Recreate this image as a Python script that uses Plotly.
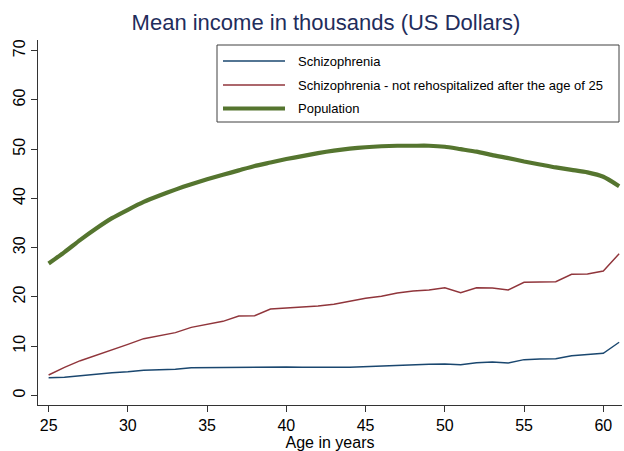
import plotly.graph_objects as go

# Mean income (thousands of US dollars) by age
ages = list(range(25, 62))

schizophrenia = [
    3.61, 3.69, 4.02, 4.36, 4.63, 4.83, 5.12, 5.24, 5.32, 5.64,
    5.66, 5.66, 5.79, 5.79, 5.85, 5.79, 5.72, 5.79, 5.72, 5.72,
    5.85, 6.05, 6.13, 6.19, 6.33, 6.39, 6.25, 6.66, 6.80, 6.60,
    7.27, 7.41, 7.47, 8.08, 8.36, 8.57, 10.80,
]

not_rehospitalized = [
    4.16, 5.72, 7.06, 8.22, 9.24, 10.39, 11.53, 12.08, 12.75, 13.84,
    14.51, 15.06, 16.14, 16.20, 17.56, 17.76, 17.97, 18.17, 18.53, 19.18,
    19.73, 20.14, 20.81, 21.21, 21.42, 21.88, 20.87, 21.88, 21.82, 21.42,
    22.98, 23.04, 23.10, 24.60, 24.67, 25.27, 28.79,
]

population = [
    26.8, 29.1, 31.6, 33.9, 36.0, 37.7, 39.3, 40.6, 41.8, 42.9,
    43.9, 44.8, 45.7, 46.6, 47.3, 48.0, 48.6, 49.2, 49.7, 50.1,
    50.4, 50.6, 50.7, 50.7, 50.7, 50.5, 50.0, 49.5, 48.8, 48.2,
    47.5, 46.9, 46.3, 45.8, 45.3, 44.4, 42.5,
]

series_names = [
    "Schizophrenia",
    "Schizophrenia - not rehospitalized after the age of 25",
    "Population",
]
series_values = [schizophrenia, not_rehospitalized, population]
series_colors = ["#1a476f", "#90353b", "#55752f"]
series_widths = [1.4, 1.4, 4.2]
series_shapes = ["linear", "linear", "spline"]

x_ticks = [25, 30, 35, 40, 45, 50, 55, 60]
y_ticks = [0, 10, 20, 30, 40, 50, 60, 70]

W, H = 624, 451
M_L, M_R, M_T, M_B = 38, 2, 40, 46
FONT = "Arial, 'Liberation Sans', sans-serif"
AXIS_COLOR = "#333333"


def px_to_paper_x(px):
    return (px - M_L) / (W - M_L - M_R)


def px_to_paper_y(py):
    return (H - M_B - py) / (H - M_T - M_B)


fig = go.Figure()
for name, vals, color, width, shape in zip(series_names, series_values, series_colors,
                                           series_widths, series_shapes):
    fig.add_trace(go.Scatter(
        x=ages, y=vals, mode="lines", name=name,
        line=dict(color=color, width=width, shape=shape, smoothing=0.6),
        showlegend=False,
    ))

# Legend drawn as a boxed key in the upper right of the plot area
shapes = [dict(
    type="rect", xref="paper", yref="paper",
    x0=px_to_paper_x(217), x1=px_to_paper_x(619),
    y0=px_to_paper_y(122), y1=px_to_paper_y(45),
    line=dict(color="#404040", width=1), fillcolor="white", layer="above",
)]
annotations = []
row_y = [61, 85, 108.5]
for name, color, width, ry in zip(series_names, series_colors, series_widths, row_y):
    shapes.append(dict(
        type="line", xref="paper", yref="paper",
        x0=px_to_paper_x(223), x1=px_to_paper_x(285),
        y0=px_to_paper_y(ry), y1=px_to_paper_y(ry),
        line=dict(color=color, width=width), layer="above",
    ))
    annotations.append(dict(
        xref="paper", yref="paper", x=px_to_paper_x(296), y=px_to_paper_y(ry),
        xanchor="left", yanchor="middle", text=name, showarrow=False,
        font=dict(family=FONT, size=13, color="black"),
    ))

fig.update_layout(
    width=W, height=H,
    margin=dict(l=M_L, r=M_R, t=M_T, b=M_B, pad=0),
    paper_bgcolor="white", plot_bgcolor="white",
    font=dict(family=FONT, color="black"),
    title=dict(
        text="Mean income in thousands (US Dollars)",
        x=326 / W, xref="container", xanchor="center",
        y=1 - 22 / H, yref="container", yanchor="middle",
        font=dict(family=FONT, size=22, color="#1f2d5c"),
    ),
    xaxis=dict(
        range=[24.33, 61.18], tickvals=x_ticks, ticktext=[str(t) for t in x_ticks],
        showgrid=False, zeroline=False, showline=True, linecolor=AXIS_COLOR, linewidth=1.2,
        ticks="outside", ticklen=6, tickcolor=AXIS_COLOR, tickwidth=1.2,
        tickfont=dict(family=FONT, size=16, color="black"),
        title=dict(text="Age in years", font=dict(family=FONT, size=16, color="black"), standoff=0),
    ),
    yaxis=dict(
        range=[-1.93, 72.17], tickvals=y_ticks, ticktext=[str(t) for t in y_ticks],
        showgrid=False, zeroline=False, showline=True, linecolor=AXIS_COLOR, linewidth=1.2,
        ticks="outside", ticklen=6, tickcolor=AXIS_COLOR, tickwidth=1.2, tickangle=-90,
        tickfont=dict(family=FONT, size=16, color="black"),
    ),
    shapes=shapes,
    annotations=annotations,
)

fig.write_html("out.html")
